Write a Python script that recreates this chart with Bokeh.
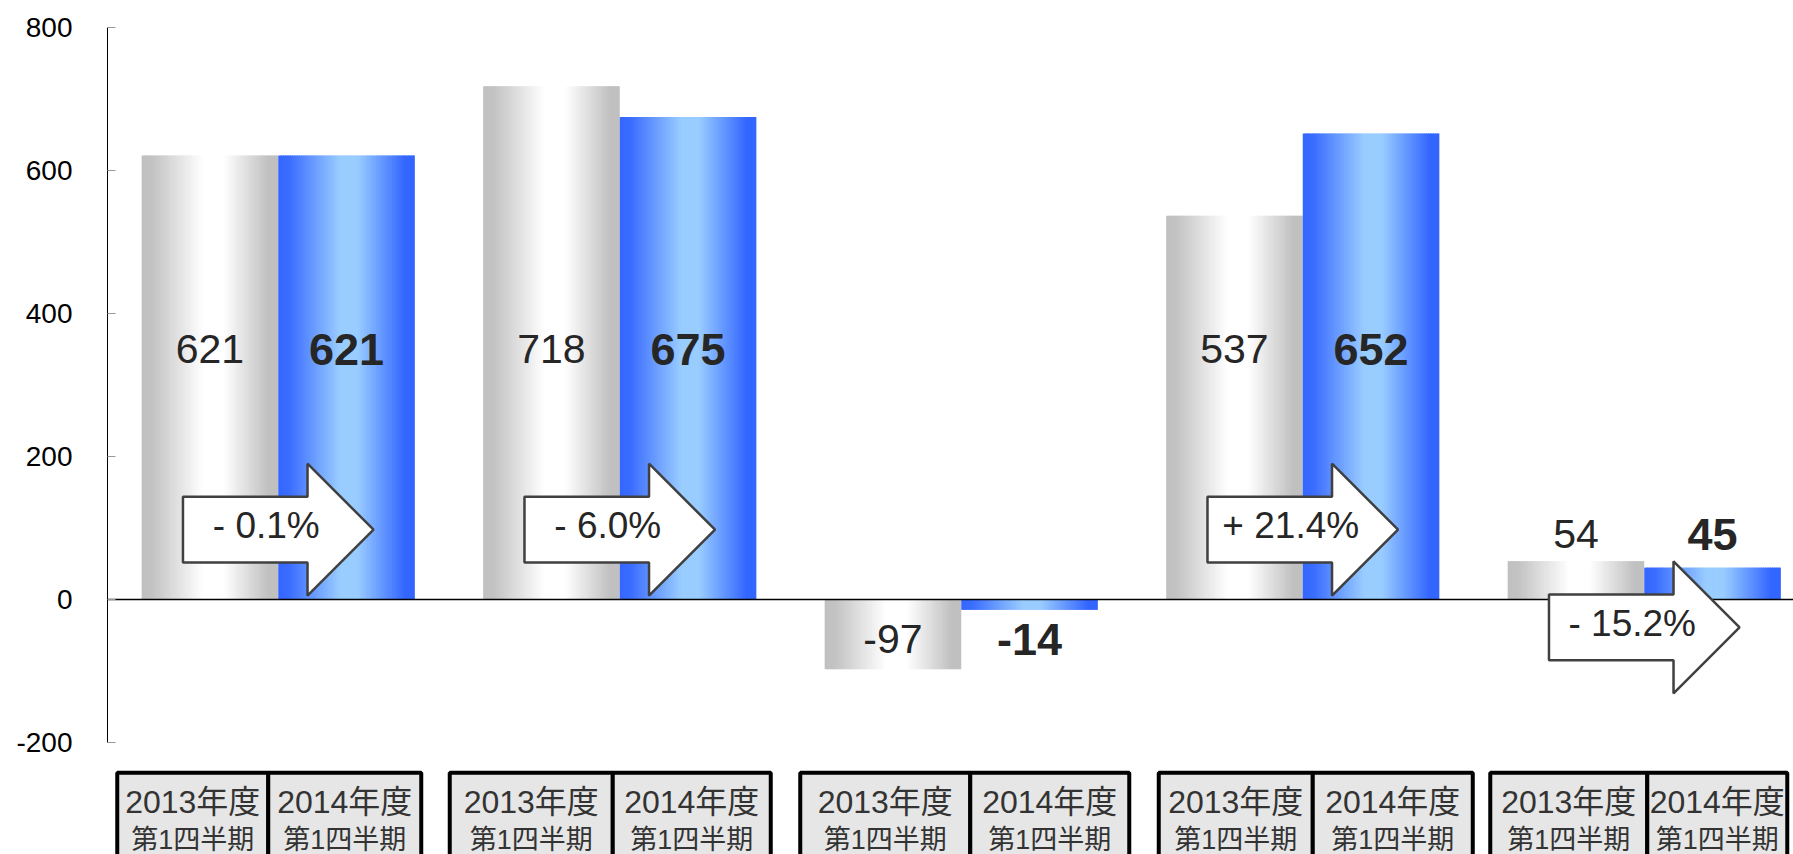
from bokeh.plotting import figure
from bokeh.models import Range1d, FixedTicker
from bokeh.core.properties import value
from bokeh.embed import file_html
from bokeh.resources import INLINE

# ---------------- data ----------------
period_labels = ["2013年度", "2014年度"]
quarter_label = "第1四半期"
values_2013 = [621, 718, -97, 537, 54]
values_2014 = [621, 675, -14, 652, 45]
change_labels = ["- 0.1%", "- 6.0%", "", "+ 21.4%", "- 15.2%"]
y_ticks = [-200, 0, 200, 400, 600, 800]

# ---------------- layout / styling ----------------
FONT = "Liberation Sans, Noto Sans CJK JP"
TXT = "#262626"
PX_PER_UNIT = 341.5  # horizontal pixels per category
# label-box edges (left, divider, right) in pixels relative to each group centre
box_edges_px = [(-161, -10, 143), (-170, -7, 151), (-161, 9, 168),
                (-144, 10, 170), (-154, 3, 143)]

gray_stops = [(0.0, "#c0c0c0"), (0.08, "#c3c3c3"), (0.45, "#ffffff"),
              (0.60, "#ffffff"), (0.93, "#c0c0c0"), (1.0, "#c0c0c0")]
blue_stops = [(0.0, "#3366ff"), (0.08, "#3b6dff"), (0.45, "#99ccff"),
              (0.58, "#99ccff"), (0.93, "#3366ff"), (1.0, "#3366ff")]


def hex2rgb(h):
    h = h.lstrip("#")
    return [int(h[i:i + 2], 16) for i in (0, 2, 4)]


def grad(stops, t):
    for (t0, c0), (t1, c1) in zip(stops[:-1], stops[1:]):
        if t0 <= t <= t1:
            f = 0 if t1 == t0 else (t - t0) / (t1 - t0)
            a, b = hex2rgb(c0), hex2rgb(c1)
            return "#%02x%02x%02x" % tuple(round(a[k] + (b[k] - a[k]) * f) for k in range(3))
    return stops[-1][1]


n = len(values_2013)
centers = list(range(n))
bar_w = 0.4

p = figure(width=1793, height=854,
           x_range=Range1d(-0.5, 4.437), y_range=Range1d(-356.0, 800),
           output_backend="svg", toolbar_location=None, x_axis_location=None,
           min_border_left=107, min_border_right=0, min_border_top=27, min_border_bottom=0)
p.outline_line_color = None
p.xgrid.visible = False
p.ygrid.visible = False

ax = p.yaxis[0]
ax.ticker = FixedTicker(ticks=y_ticks)
ax.bounds = (y_ticks[0], y_ticks[-1])
ax.major_label_overrides = {t: str(t) for t in y_ticks}
ax.axis_line_color = "black"
ax.axis_line_width = 1
ax.major_tick_in = 8
ax.major_tick_out = 0
ax.major_tick_line_color = "#999999"
ax.minor_tick_line_color = None
ax.major_label_text_font = FONT
ax.major_label_text_font_size = "28px"
ax.major_label_text_color = "black"
ax.major_label_standoff = 35

# ---------------- gradient bars ----------------
N = 60
L, R, T, B, C = [], [], [], [], []
for series, (vals, stops) in enumerate([(values_2013, gray_stops), (values_2014, blue_stops)]):
    for c, v in zip(centers, vals):
        x0 = c - bar_w + series * bar_w
        dw = bar_w / N
        for k in range(N):
            left = x0 + k * dw
            right = left + (dw * 1.6 if k < N - 1 else dw)
            L.append(left)
            R.append(right)
            T.append(max(v, 0))
            B.append(min(v, 0))
            C.append(grad(stops, (k + 0.5) / N))
p.quad(left=L, right=R, top=T, bottom=B, fill_color=C, line_color=None)

# zero line
p.hspan(y=[0], line_color="black", line_width=1.3)

# ---------------- value labels ----------------
def label_y(a, b):
    if min(a, b) > 300:
        return 350
    if max(a, b) < 0:
        return -55
    return max(a, b) + 38


ly = [label_y(a, b) for a, b in zip(values_2013, values_2014)]
p.text(x=[c - bar_w / 2 for c in centers], y=ly, text=[str(v) for v in values_2013],
       text_font=value("Liberation Sans"), text_font_size="41px",
       text_align="center", text_baseline="middle", text_color=TXT)
p.text(x=[c + bar_w / 2 for c in centers], y=ly, text=[str(v) for v in values_2014],
       text_font=value("Liberation Sans"), text_font_size="45px", text_font_style="bold",
       text_align="center", text_baseline="middle", text_color=TXT)

# ---------------- change arrows ----------------
axs, ays, tx, ty, tt = [], [], [], [], []
for c, a, b, lab in zip(centers, values_2013, values_2014, change_labels):
    if not lab:
        continue
    cy = 98 if min(a, b) > 300 else -38.5
    hh, bh = 92.3, 46.0
    xl, xh, xt = c - 0.279, c + 0.0857, c + 0.279
    axs.append([xl, xh, xh, xt, xh, xh, xl])
    ays.append([cy + bh, cy + bh, cy + hh, cy, cy - hh, cy - bh, cy - bh])
    tx.append(c)
    ty.append(cy)
    tt.append(lab)
p.patches(xs=axs, ys=ays, fill_color="white", line_color="#404040", line_width=2.5)
p.text(x=tx, y=ty, text=tt, x_offset=-12, y_offset=-4,
       text_font=value("Liberation Sans"), text_font_size="37px",
       text_align="center", text_baseline="middle", text_color=TXT)

# ---------------- category boxes ----------------
box_top = -241.8
bl, br, bx, t1, t2 = [], [], [], [], []
for c, (e0, e1, e2) in zip(centers, box_edges_px):
    edges = [c + e / PX_PER_UNIT for e in (e0, e1, e2)]
    for s, lab in enumerate(period_labels):
        bl.append(edges[s])
        br.append(edges[s + 1])
        bx.append((edges[s] + edges[s + 1]) / 2)
        t1.append(lab)
        t2.append(quarter_label)
p.quad(left=bl, right=br, top=box_top, bottom=-420, fill_color="#e6e6e6",
       line_color="black", line_width=4)
p.text(x=bx, y=[-283] * len(bx), text=t1, text_font=value(FONT), text_font_size="32px",
       text_align="center", text_baseline="middle", text_color="#333333")
p.text(x=bx, y=[-336] * len(bx), text=t2, text_font=value(FONT), text_font_size="27px",
       text_align="center", text_baseline="middle", text_color="#333333")

open("out.html", "w").write(file_html(p, INLINE))
